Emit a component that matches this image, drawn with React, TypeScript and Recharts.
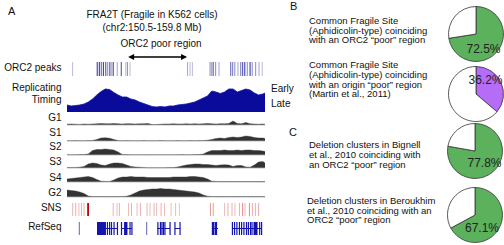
import React from "react";
import {
  ComposedChart,
  AreaChart,
  Area,
  XAxis,
  YAxis,
  ReferenceLine,
  ReferenceArea,
  PieChart,
  Pie,
  Cell,
} from "recharts";

// ---------------- DATA ----------------
const REGION_MB: [number, number] = [150.5, 159.8];
const ORC2_POOR_REGION_MB = [153.37, 156.14];

const BINS_MB = [
  150.5, 150.7, 150.9, 151.1, 151.3, 151.5, 151.7, 151.9, 152.1, 152.3, 152.5, 152.7,
  152.9, 153.1, 153.3, 153.5, 153.7, 153.9, 154.1, 154.3, 154.5, 154.7, 154.9, 155.1,
  155.3, 155.5, 155.7, 155.9, 156.1, 156.3, 156.5, 156.7, 156.9, 157.1, 157.3, 157.5,
  157.7, 157.9, 158.1, 158.3, 158.5, 158.7, 158.9, 159.1, 159.3, 159.5, 159.7, 159.8,
];

const REPLICATION_TIMING = [
  7, 6, 6.5, 7, 8, 10, 13, 17, 20.5, 23, 22.5, 19.5, 17, 15, 15, 13, 12, 10, 8.5, 7, 5.5, 5,
  5.5, 5, 6, 6, 7, 7.5, 8, 9, 10, 12, 14, 16, 21, 20, 18.5, 20, 23, 23, 20, 21.5, 23, 22, 19,
  17, 18, 19,
];

const G1_SIGNAL = [
  0.8, 1, 0.8, 0.6, 1, 0.8, 1, 1.2, 1.5, 1.3, 1.2, 1.5, 1.2, 1, 1.3, 1.2, 1, 1.2, 1.3, 1.5,
  0.5, 0.5, 0.8, 1, 1, 1.2, 1, 1, 1.2, 1, 1.3, 1, 1.2, 1.5, 1.2, 1, 1.3, 1.2, 1.5, 4, 1.5, 1.2,
  2.5, 1.2, 1, 0.8, 1, 0.8,
];
const S1_SIGNAL = [
  0.3, 0.3, 0.4, 0.3, 0.3, 0.4, 0.5, 1.5, 3, 3.2, 2.8, 1.5, 0.5, 0.3, 0.4, 0.3, 0.3, 0.3, 0.4,
  0.3, 0.3, 0.3, 0.4, 0.3, 0.3, 0.3, 0.4, 0.3, 0.3, 0.4, 0.3, 0.4, 0.5, 0.8, 1.5, 2.5, 3, 2.5,
  3.5, 4, 3.5, 4, 5, 4.5, 3.5, 3, 3, 2.5,
];
const S2_SIGNAL = [
  0.3, 0.3, 0.3, 0.4, 0.5, 1, 4.5, 5.5, 5.5, 6, 5.5, 5, 3, 0.5, 0.4, 0.3, 0.3, 0.3, 0.3, 0.3,
  0.3, 0.3, 0.3, 0.3, 0.3, 0.3, 0.3, 0.4, 0.3, 0.3, 0.4, 0.5, 1, 3, 4.5, 4.5, 4.5, 5, 4.5, 4.5,
  5, 4.5, 5, 5, 4.5, 4.5, 4, 3.5,
];
const S3_SIGNAL = [
  0.5, 0.5, 0.6, 0.8, 1.5, 4, 5, 4.5, 3, 2.5, 4, 5, 5, 4.5, 3, 1.5, 1, 0.8, 0.5, 0.3, 0.3, 0.3,
  0.3, 0.3, 0.4, 0.5, 1, 2, 3, 3.5, 4, 4, 3.5, 3.5, 3, 2.5, 3, 3.3, 3, 1.5, 2.5, 2.5, 1, 0.8, 3,
  6, 6.5, 5,
];
const S4_SIGNAL = [
  3, 3.5, 4, 4.5, 5, 5.5, 4.5, 2.5, 0.8, 0.6, 0.6, 2, 4, 5, 5, 5.5, 5, 5, 5, 4.5, 4.5, 4.5, 4.5,
  4.5, 4.5, 5, 5, 5, 5, 5.5, 5.5, 5, 4.5, 3, 0.8, 0.6, 0.5, 0.5, 0.5, 0.4, 0.5, 0.5, 0.4, 0.5,
  0.4, 0.4, 0.5, 0.4,
];
const G2_SIGNAL = [
  7, 6.5, 6, 5, 3.5, 1, 0.5, 0.5, 0.5, 0.5, 0.4, 0.4, 0.5, 0.5, 0.8, 2, 4, 6, 7, 7.5, 8, 8, 8.5,
  8, 8, 7.5, 7, 6.5, 6, 5.5, 5, 4, 2, 0.8, 0.5, 0.5, 0.4, 0.4, 0.5, 0.4, 0.4, 0.5, 0.4, 0.4, 0.4,
  0.4, 0.5, 0.4,
];

const PHASE_LABELS = ["G1", "S1", "S2", "S3", "S4", "G2"];
const PHASE_SIGNALS = [G1_SIGNAL, S1_SIGNAL, S2_SIGNAL, S3_SIGNAL, S4_SIGNAL, G2_SIGNAL];

const ORC2_PEAKS_MB = [
  150.76, 151.92, 152.02, 152.11, 152.21, 152.32, 152.41, 152.51, 152.58, 152.67, 152.86,
  153.05, 153.26, 153.34, 153.46, 156.16, 156.28, 156.39, 157.22, 157.3, 157.37, 157.48,
  157.64, 158.19, 158.28, 158.38, 158.53, 158.66, 158.75, 158.85, 158.97, 159.1, 159.2,
  159.36, 159.52, 159.67,
];
const ORC2_PEAK_STRENGTH = [
  0.3, 0.9, 0.9, 0.7, 0.9, 0.8, 0.5, 0.8, 0.4, 0.9, 0.4, 0.8, 0.3, 0.5, 0.3, 0.4, 0.3, 0.3, 0.5,
  0.5, 0.7, 0.5, 0.4, 0.7, 0.6, 0.5, 0.4, 0.6, 0.8, 0.9, 0.5, 0.9, 0.5, 0.5, 0.4, 0.3,
];

const SNS_PEAKS_MB = [
  150.77, 150.91, 151.06, 151.18, 151.3, 151.49, 152.67, 152.85, 152.96, 153.39, 153.53,
  153.79, 153.95, 154.26, 154.4, 154.59, 154.71, 154.92, 155.08, 155.39, 155.6, 155.78,
  157.24, 157.37, 157.9, 158.06, 158.25, 158.39, 158.6, 158.75, 158.86, 159.07, 159.21,
  159.35, 159.5,
];
const SNS_STRENGTH = [
  0.4, 0.4, 0.35, 0.4, 0.4, 1, 0.4, 0.35, 0.4, 0.35, 0.4, 0.35, 0.4, 0.4, 0.35, 0.4, 0.35, 0.4,
  0.35, 0.35, 0.35, 0.3, 0.5, 0.5, 0.35, 0.4, 0.4, 0.35, 0.4, 0.6, 0.4, 0.6, 0.4, 0.4, 0.45,
];

const REFSEQ_GENES = [
  { start: 151.08, end: 151.08, exons: [[151.08, 151.08]], weak: true },
  {
    start: 151.91,
    end: 152.9,
    exons: [[151.91, 152.33], [152.4, 152.4], [152.5, 152.5], [152.59, 152.59], [152.71, 152.71], [152.87, 152.87]],
  },
  { start: 153.04, end: 153.55, exons: [[153.06, 153.06], [153.18, 153.34], [153.46, 153.46], [153.55, 153.55]] },
  { start: 154.24, end: 154.24, exons: [[154.24, 154.24]], weak: true },
  {
    start: 154.73,
    end: 155.34,
    exons: [[154.77, 154.77], [154.89, 154.89], [154.96, 154.96], [155.03, 155.03], [155.1, 155.1], [155.34, 155.34]],
  },
  { start: 155.57, end: 155.81, exons: [[155.57, 155.57], [155.81, 155.81]] },
  { start: 157.33, end: 157.59, exons: [[157.33, 157.33], [157.38, 157.38], [157.43, 157.55]] },
  {
    start: 158.25,
    end: 159.66,
    exons: [
      [158.27, 158.27], [158.37, 158.37], [158.48, 158.48], [158.6, 158.6], [158.7, 158.7],
      [158.81, 158.81], [158.93, 158.93], [159.02, 159.02], [159.12, 159.12], [159.19, 159.19],
      [159.26, 159.45], [159.55, 159.55], [159.64, 159.64],
    ],
  },
];

const PIE_VALUES = [72.5, 36.2, 77.8, 67.1];
const PIE_COLORS = ["#5cb15c", "#b56cf6", "#5cb15c", "#5cb15c"];
const PIE_LABELS = ["72.5%", "36.2%", "77.8%", "67.1%"];
const PIE_TEXTS = [
  ["Common Fragile Site", "(Aphidicolin-type) coinciding", "with an ORC2 \u201cpoor\u201d region"],
  ["Common Fragile Site", "(Aphidicolin-type) coinciding", "with an origin \u201cpoor\u201d region", "(Martin et al., 2011)"],
  ["Deletion clusters in Bignell", "et al., 2010 coinciding with", "an ORC2 \u201cpoor\u201d region"],
  ["Deletion clusters in Beroukhim", "et al., 2010 coinciding with an", "ORC2 \u201cpoor\u201d region"],
];

// ---------------- LAYOUT ----------------
const FONT = "'Liberation Sans', Arial, Helvetica, sans-serif";
const TRACK_X = 67;
const TRACK_W = 198;
const LABEL_RIGHT = 61.5;
const PHASE_TOPS = [115, 131, 145, 158, 172, 187];
const PHASE_LABEL_Y = [117.5, 132.5, 146.5, 161.5, 177.5, 192.5];
const PIE_CENTERS = [
  [475.5, 33.5],
  [475.5, 94],
  [474.5, 151],
  [474.5, 214.5],
];
const PIE_LABEL_OFFSETS = [
  [7.5, 15],
  [9.5, -14],
  [9.5, 12],
  [7, 12.5],
];
const PIE_TEXT_POS = [
  [309, 15.8],
  [309, 60.1],
  [309, 140],
  [307, 195.8],
];
const PIE_R = 27.5;

const M0 = { top: 0, right: 0, bottom: 0, left: 0 };

const Txt = ({
  x,
  y,
  children,
  size = 10,
  align = "left",
  w = 200,
  lh,
}: any) => {
  const lineH = lh ?? size * 1.2;
  let left = x;
  if (align === "center") left = x - w / 2;
  if (align === "right") left = x - w;
  return (
    <div
      style={{
        position: "absolute",
        left,
        top: y - lineH / 2,
        width: w,
        textAlign: align,
        fontSize: size,
        lineHeight: `${lineH}px`,
        whiteSpace: "nowrap",
        color: "#111",
      }}
    >
      {children}
    </div>
  );
};

const ArrowShape = (props: any) => {
  const { x1, y1, x2, y2 } = props;
  const h = 6;
  const hw = 3;
  return (
    <g>
      <line x1={x1 + 2} y1={y1} x2={x2 - 2} y2={y2} stroke="#000" strokeWidth={1.3} />
      <path d={`M${x1},${y1} L${x1 + h},${y1 - hw} L${x1 + h},${y1 + hw} Z`} fill="#000" />
      <path d={`M${x2},${y2} L${x2 - h},${y2 - hw} L${x2 - h},${y2 + hw} Z`} fill="#000" />
    </g>
  );
};

const PeaksTrack = () => {
  const data = ORC2_PEAKS_MB.map((mb, i) => ({ mb, s: ORC2_PEAK_STRENGTH[i] }));
  return (
    <div style={{ position: "absolute", left: TRACK_X, top: 48 }}>
      <ComposedChart width={TRACK_W} height={30} data={data} margin={M0}>
        <XAxis type="number" dataKey="mb" domain={REGION_MB} hide allowDataOverflow />
        <YAxis type="number" domain={[0, 30]} hide allowDataOverflow />
        {data.map((p, i) => (
          <ReferenceLine
            key={i}
            segment={[
              { x: p.mb, y: 2 },
              { x: p.mb, y: 16 },
            ]}
            stroke="#2a2a9c"
            strokeOpacity={p.s}
            strokeWidth={1.1}
          />
        ))}
        <ReferenceLine
          segment={[
            { x: ORC2_POOR_REGION_MB[0], y: 21 },
            { x: ORC2_POOR_REGION_MB[1], y: 21 },
          ]}
          stroke="#000"
          shape={ArrowShape}
        />
      </ComposedChart>
    </div>
  );
};

const RepTrack = () => {
  const data = BINS_MB.map((mb, i) => ({ mb, v: REPLICATION_TIMING[i] }));
  return (
    <div style={{ position: "absolute", left: TRACK_X, top: 80 }}>
      <AreaChart width={TRACK_W} height={32} data={data} margin={M0}>
        <XAxis type="number" dataKey="mb" domain={REGION_MB} hide allowDataOverflow />
        <YAxis type="number" domain={[0, 32]} hide allowDataOverflow />
        <Area
          type="linear"
          dataKey="v"
          stroke="#1010a8"
          strokeWidth={0.8}
          fill="#0b0b9b"
          fillOpacity={1}
          dot={false}
          activeDot={false}
          isAnimationActive={false}
        />
      </AreaChart>
    </div>
  );
};

const PhaseTrack = ({ values, top }: { values: number[]; top: number }) => {
  const data = BINS_MB.map((mb, i) => ({ mb, v: values[i] }));
  return (
    <div style={{ position: "absolute", left: TRACK_X, top }}>
      <AreaChart width={TRACK_W} height={11} data={data} margin={M0}>
        <XAxis type="number" dataKey="mb" domain={REGION_MB} hide allowDataOverflow />
        <YAxis type="number" domain={[-1, 10]} hide allowDataOverflow />
        <ReferenceLine y={0} stroke="#b0b0b0" strokeWidth={0.8} />
        <Area
          type="linear"
          dataKey="v"
          stroke="#333"
          strokeWidth={0.4}
          fill="#333"
          fillOpacity={1}
          dot={false}
          activeDot={false}
          isAnimationActive={false}
        />
      </AreaChart>
    </div>
  );
};

const SnsTrack = () => {
  const data = SNS_PEAKS_MB.map((mb, i) => ({ mb, s: SNS_STRENGTH[i] }));
  return (
    <div style={{ position: "absolute", left: TRACK_X, top: 202 }}>
      <ComposedChart width={TRACK_W} height={15} data={data} margin={M0}>
        <XAxis type="number" dataKey="mb" domain={REGION_MB} hide allowDataOverflow />
        <YAxis type="number" domain={[0, 15]} hide allowDataOverflow />
        {data.map((p, i) => (
          <ReferenceLine
            key={i}
            segment={[
              { x: p.mb, y: 1 },
              { x: p.mb, y: 14 },
            ]}
            stroke={p.s >= 1 ? "#c00000" : "#d23a3a"}
            strokeOpacity={p.s}
            strokeWidth={p.s >= 1 ? 1.8 : 1}
          />
        ))}
      </ComposedChart>
    </div>
  );
};

const RefSeqTrack = () => {
  return (
    <div style={{ position: "absolute", left: TRACK_X, top: 220 }}>
      <ComposedChart width={TRACK_W} height={17} data={REFSEQ_GENES} margin={M0}>
        <XAxis type="number" dataKey="start" domain={REGION_MB} hide allowDataOverflow />
        <YAxis type="number" domain={[0, 17]} hide allowDataOverflow />
        {REFSEQ_GENES.map((g, gi) => {
          const col = g.weak ? "#7d7dc4" : "#1414b0";
          const els: any[] = [];
          if (g.end > g.start) {
            els.push(
              <ReferenceLine
                key={`i${gi}`}
                segment={[
                  { x: g.start, y: 8.5 },
                  { x: g.end, y: 8.5 },
                ]}
                stroke={col}
                strokeWidth={1}
              />
            );
          }
          g.exons.forEach((e, ei) => {
            if (e[1] > e[0]) {
              els.push(
                <ReferenceArea
                  key={`a${gi}-${ei}`}
                  x1={e[0]}
                  x2={e[1]}
                  y1={2}
                  y2={15}
                  fill={col}
                  fillOpacity={1}
                  stroke="none"
                />
              );
            } else {
              els.push(
                <ReferenceLine
                  key={`e${gi}-${ei}`}
                  segment={[
                    { x: e[0], y: 2 },
                    { x: e[0], y: 15 },
                  ]}
                  stroke={col}
                  strokeWidth={1.2}
                />
              );
            }
          });
          return els;
        })}
      </ComposedChart>
    </div>
  );
};

const PieBlock = ({ i }: { i: number }) => {
  const [cx, cy] = PIE_CENTERS[i];
  const [dx, dy] = PIE_LABEL_OFFSETS[i];
  const data = [
    { name: "coinciding", value: PIE_VALUES[i] },
    { name: "other", value: 100 - PIE_VALUES[i] },
  ];
  const size = 64;
  const renderLabel = (p: any) => {
    if (p.index !== 0) return null;
    return (
      <text
        x={p.cx + dx}
        y={p.cy + dy}
        textAnchor="middle"
        dominantBaseline="central"
        fontSize={12}
        fontFamily={FONT}
        fill="#222"
      >
        {PIE_LABELS[i]}
      </text>
    );
  };
  return (
    <div style={{ position: "absolute", left: cx - size / 2, top: cy - size / 2 }}>
      <PieChart width={size} height={size} margin={M0}>
        <Pie
          data={data}
          dataKey="value"
          cx="50%"
          cy="50%"
          outerRadius={PIE_R}
          innerRadius={0}
          startAngle={90}
          endAngle={-270}
          stroke="#333"
          strokeWidth={0.8}
          label={renderLabel}
          labelLine={false}
          isAnimationActive={false}
        >
          <Cell fill={PIE_COLORS[i]} />
          <Cell fill="#ffffff" />
        </Pie>
      </PieChart>
    </div>
  );
};

export default function App() {
  return (
    <div
      style={{
        position: "absolute",
        left: 0,
        top: 0,
        width: 504,
        height: 245,
        background: "#fff",
        overflow: "hidden",
        fontFamily: FONT,
        color: "#111",
      }}
    >
      {/* Panel A */}
      <Txt x={8} y={11.5} size={11}>A</Txt>
      <Txt x={152} y={15} size={10} align="center" w={200}>FRA2T (Fragile in K562 cells)</Txt>
      <Txt x={152} y={27.5} size={10} align="center" w={200}>(chr2:150.5-159.8 Mb)</Txt>
      <Txt x={161} y={44} size={10} align="center" w={140}>ORC2 poor region</Txt>

      <Txt x={LABEL_RIGHT} y={67.5} align="right" w={70}>ORC2 peaks</Txt>
      <Txt x={LABEL_RIGHT} y={88.3} align="right" w={70}>Replicating</Txt>
      <Txt x={LABEL_RIGHT} y={99.5} align="right" w={70}>Timing</Txt>
      {PHASE_LABELS.map((l, i) => (
        <Txt key={l} x={LABEL_RIGHT} y={PHASE_LABEL_Y[i]} align="right" w={40}>
          {l}
        </Txt>
      ))}
      <Txt x={LABEL_RIGHT} y={208.3} align="right" w={40}>SNS</Txt>
      <Txt x={LABEL_RIGHT} y={226.7} align="right" w={60}>RefSeq</Txt>
      <Txt x={271} y={88.5}>Early</Txt>
      <Txt x={271} y={103.5}>Late</Txt>

      <PeaksTrack />
      <RepTrack />
      {PHASE_SIGNALS.map((v, i) => (
        <PhaseTrack key={i} values={v} top={PHASE_TOPS[i]} />
      ))}
      <SnsTrack />
      <RefSeqTrack />

      {/* Panels B and C */}
      <Txt x={290} y={7} size={11}>B</Txt>
      <Txt x={289} y={133} size={11}>C</Txt>
      {PIE_TEXTS.map((lines, i) => (
        <div
          key={i}
          style={{
            position: "absolute",
            left: PIE_TEXT_POS[i][0],
            top: PIE_TEXT_POS[i][1],
            fontSize: 9.5,
            lineHeight: "9.8px",
            whiteSpace: "nowrap",
            color: "#111",
          }}
        >
          {lines.map((l, j) => (
            <div key={j}>{l}</div>
          ))}
        </div>
      ))}
      {PIE_VALUES.map((_, i) => (
        <PieBlock key={i} i={i} />
      ))}
    </div>
  );
}
